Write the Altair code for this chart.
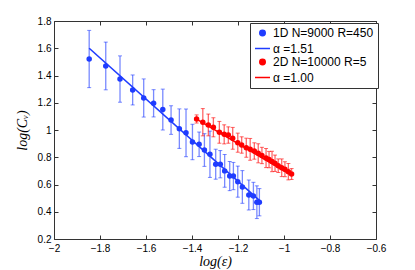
import altair as alt
import pandas as pd

blue_x = [-1.847, -1.775, -1.713, -1.658, -1.610, -1.567, -1.527, -1.491, -1.455, -1.426,
          -1.398, -1.369, -1.346, -1.322, -1.297, -1.277, -1.258, -1.236, -1.220, -1.201,
          -1.181, -1.153, -1.133, -1.118, -1.107]
blue_y = [1.521, 1.470, 1.374, 1.294, 1.235, 1.196, 1.150, 1.073, 1.010, 0.979,
          0.912, 0.895, 0.853, 0.822, 0.749, 0.749, 0.700, 0.662, 0.662, 0.621,
          0.582, 0.523, 0.516, 0.470, 0.470]
blue_err = [0.21, 0.175, 0.17, 0.11, 0.14, 0.10, 0.15, 0.105, 0.145, 0.175,
            0.13, 0.09, 0.12, 0.17, 0.11, 0.10, 0.12, 0.107, 0.10, 0.114,
            0.12, 0.11, 0.10, 0.12, 0.10]

red_x = [-1.380, -1.353, -1.329, -1.307, -1.281, -1.260, -1.242, -1.223, -1.201, -1.184,
         -1.164, -1.147, -1.129, -1.112, -1.096, -1.078, -1.065, -1.052, -1.039, -1.025,
         -1.010, -0.996, -0.981, -0.967]
red_y = [1.081, 1.057, 1.037, 1.020, 0.983, 0.968, 0.963, 0.939, 0.907, 0.890,
         0.870, 0.858, 0.846, 0.829, 0.813, 0.794, 0.783, 0.769, 0.756, 0.738,
         0.723, 0.712, 0.694, 0.677]
red_err = [0.03, 0.10, 0.08, 0.07, 0.08, 0.07, 0.06, 0.08, 0.07, 0.06,
           0.07, 0.08, 0.06, 0.07, 0.06, 0.07, 0.06, 0.075, 0.06, 0.05,
           0.065, 0.055, 0.06, 0.04]

blue_fit_x = [-1.847, -1.101]
blue_fit_y = [1.600, 0.474]
red_fit_x = [-1.380, -0.967]
red_fit_y = [1.080, 0.667]

legend_labels = ["1D N=9000 R=450", "α =1.51", "2D N=10000 R=5", "α =1.00"]
x_ticks = [-2, -1.8, -1.6, -1.4, -1.2, -1, -0.8, -0.6]
y_ticks = [0.2, 0.4, 0.6, 0.8, 1, 1.2, 1.4, 1.6, 1.8]

BLUE = "#1f3cff"
RED = "#ff0000"

blue = pd.DataFrame({"x": blue_x, "y": blue_y,
                     "lo": [a - b for a, b in zip(blue_y, blue_err)],
                     "hi": [a + b for a, b in zip(blue_y, blue_err)]})
red = pd.DataFrame({"x": red_x, "y": red_y,
                    "lo": [a - b for a, b in zip(red_y, red_err)],
                    "hi": [a + b for a, b in zip(red_y, red_err)]})
bfit = pd.DataFrame({"x": blue_fit_x, "y": blue_fit_y})
rfit = pd.DataFrame({"x": red_fit_x, "y": red_fit_y})
leg = pd.DataFrame({"label": legend_labels})

xs = alt.Scale(domain=[-2, -0.6], nice=False, zero=False)
ys = alt.Scale(domain=[0.2, 1.8], nice=False, zero=False)

lab_font = "Liberation Sans"
title_font = "Liberation Serif"

x_axis = alt.Axis(values=x_ticks, format="~g", tickSize=4, offset=-4, domain=False,
                  grid=False, labelPadding=4, labelFont=lab_font, labelFontSize=10,
                  labelColor="black", tickColor="#333", title="log(ε)",
                  titleFont=title_font, titleFontStyle="italic", titleFontWeight="normal",
                  titleFontSize=14, titlePadding=1, titleColor="black", labelFlush=False)
y_axis = alt.Axis(values=y_ticks, format="~g", tickSize=4, offset=-4, domain=False,
                  grid=False, labelPadding=3, labelFont=lab_font, labelFontSize=10,
                  labelColor="black", tickColor="#333", title="log(Cᵥ)",
                  titleFont=title_font, titleFontStyle="italic", titleFontWeight="normal",
                  titleFontSize=14, titlePadding=8, titleColor="black", labelFlush=False)


def err_layers(df, color):
    rules = alt.Chart(df).mark_rule(color=color, opacity=0.6, strokeWidth=1.3).encode(
        x=alt.X("x:Q", scale=xs, axis=None), y=alt.Y("lo:Q", scale=ys, axis=None), y2="hi:Q")
    cap_lo = alt.Chart(df).mark_tick(color=color, opacity=0.6, size=4, thickness=1,
                                     orient="horizontal").encode(
        x=alt.X("x:Q", scale=xs, axis=None), y=alt.Y("lo:Q", scale=ys, axis=None))
    cap_hi = alt.Chart(df).mark_tick(color=color, opacity=0.6, size=4, thickness=1,
                                     orient="horizontal").encode(
        x=alt.X("x:Q", scale=xs, axis=None), y=alt.Y("hi:Q", scale=ys, axis=None))
    pts = alt.Chart(df).mark_circle(color=color, opacity=1, size=30).encode(
        x=alt.X("x:Q", scale=xs, axis=None), y=alt.Y("y:Q", scale=ys, axis=None))
    return [rules, cap_lo, cap_hi, pts]


base_axes = alt.Chart(bfit).mark_line(color=BLUE, strokeWidth=1.6).encode(
    x=alt.X("x:Q", scale=xs, axis=x_axis), y=alt.Y("y:Q", scale=ys, axis=y_axis))
red_line = alt.Chart(rfit).mark_line(color=RED, strokeWidth=1.6).encode(
    x=alt.X("x:Q", scale=xs, axis=None), y=alt.Y("y:Q", scale=ys, axis=None))

other_axes = alt.Chart(bfit).mark_point(opacity=0).encode(
    x=alt.X("x:Q", scale=xs, axis=alt.Axis(orient="top", values=x_ticks, labels=False,
                                           tickSize=4, offset=-4, domain=False, grid=False,
                                           title=None, tickColor="#333")),
    y=alt.Y("y:Q", scale=ys, axis=alt.Axis(orient="right", values=y_ticks, labels=False,
                                           tickSize=4, offset=-4, domain=False, grid=False,
                                           title=None, tickColor="#333")))

legend_layer = alt.Chart(leg).mark_point(filled=True, clip=True, strokeWidth=1.5).encode(
    x=alt.value(-60), y=alt.value(-60),
    shape=alt.Shape("label:N", scale=alt.Scale(domain=legend_labels,
                                               range=["circle", "stroke", "circle", "stroke"]),
                    legend=alt.Legend(title=None)),
    fill=alt.Fill("label:N", scale=alt.Scale(domain=legend_labels,
                                             range=[BLUE, "transparent", RED, "transparent"]),
                  legend=alt.Legend(title=None)),
    stroke=alt.Stroke("label:N", scale=alt.Scale(domain=legend_labels,
                                                 range=[BLUE, BLUE, RED, RED]),
                      legend=alt.Legend(title=None)),
    size=alt.Size("label:N", scale=alt.Scale(type="ordinal", domain=legend_labels,
                                             range=[30, 225, 30, 225]),
                  legend=alt.Legend(title=None)),
)

layers = [base_axes, other_axes] + err_layers(blue, BLUE) + err_layers(red, RED) + [red_line, legend_layer]

chart = alt.layer(*layers).resolve_axis(x="independent", y="independent").properties(
    width=322, height=218,
    autosize=alt.AutoSizeParams(type="none"),
    padding={"left": 46, "top": 13, "right": 30, "bottom": 33},
).configure_view(stroke="#333", strokeWidth=1).configure_legend(
    orient="none", legendX=196, legendY=2, padding=4, strokeColor="#333", fillColor="white",
    labelFont=lab_font, labelFontSize=12, labelColor="black", rowPadding=1,
    labelOffset=2, symbolOpacity=1, cornerRadius=0
)

chart.save("out.html", embed_options={"renderer": "svg", "actions": False})
